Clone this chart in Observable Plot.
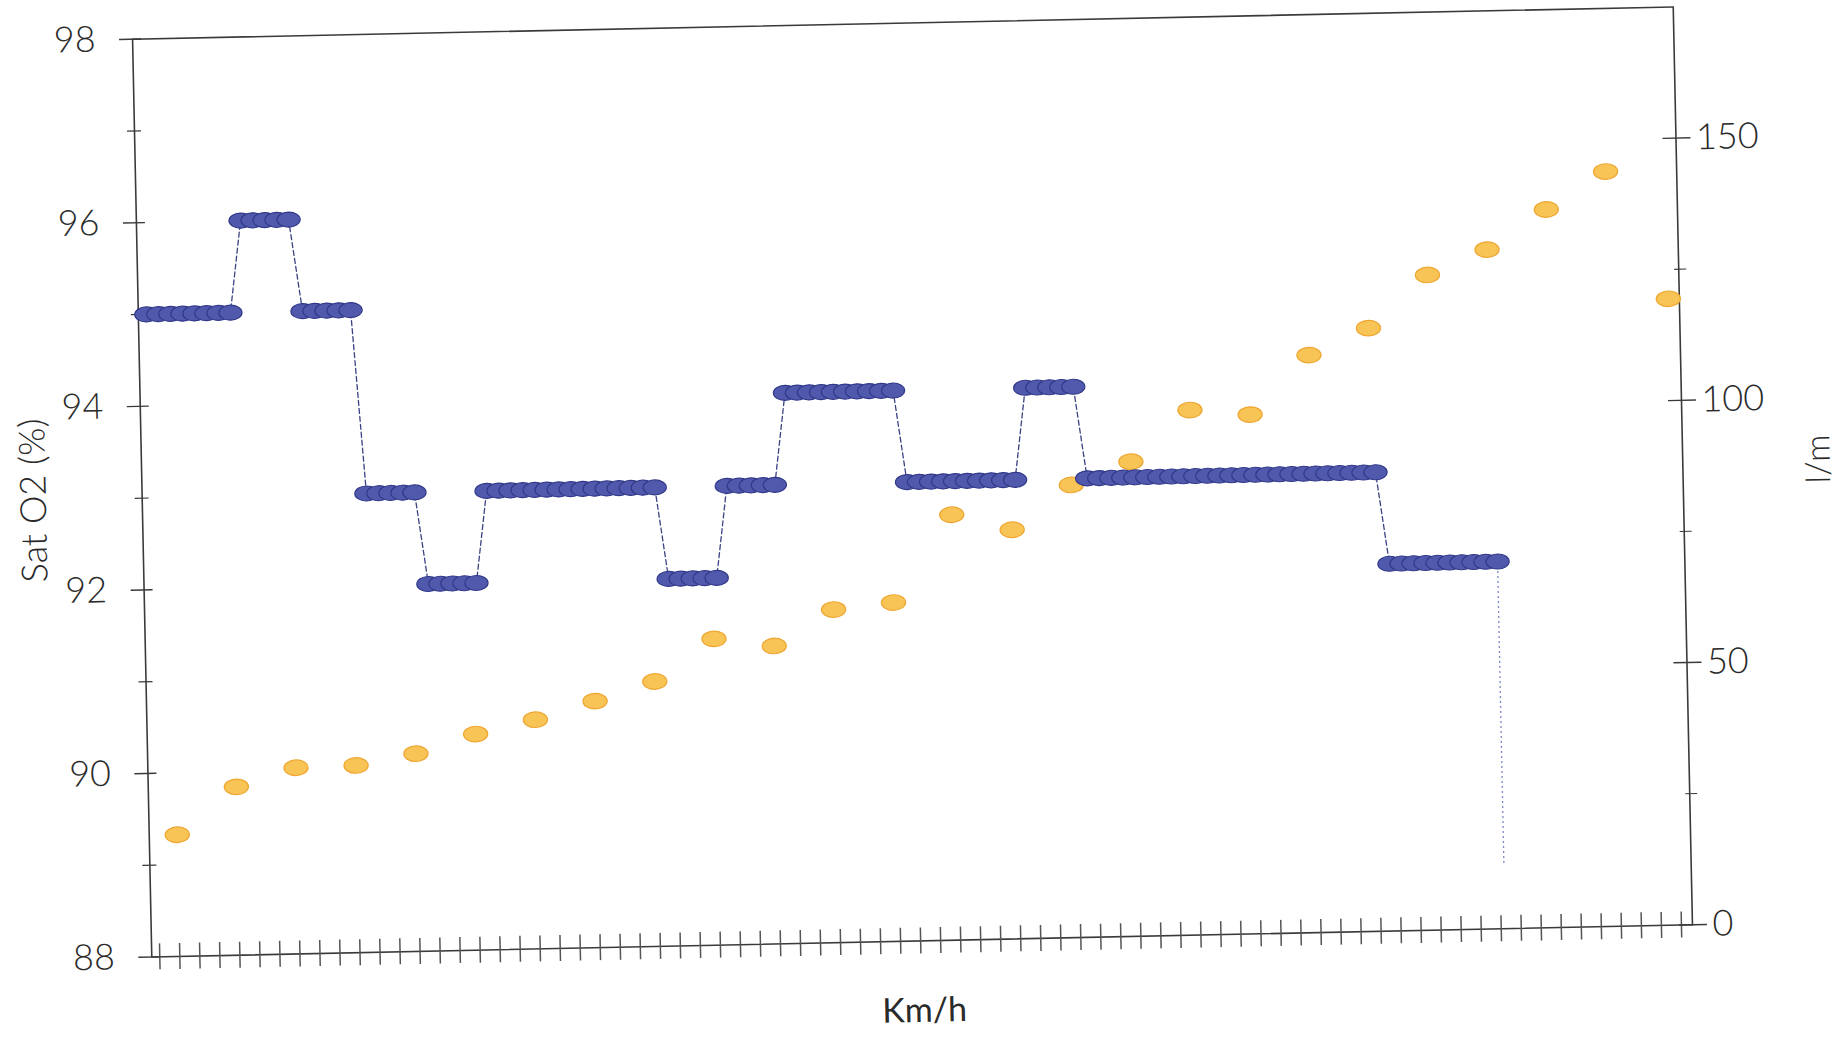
<!DOCTYPE html>
<html>
<head>
<meta charset="utf-8">
<script src="https://cdn.jsdelivr.net/npm/d3@7"></script>
<script src="https://cdn.jsdelivr.net/npm/@observablehq/plot@0.6"></script>
<style>
  html, body { margin: 0; padding: 0; background: #fff; overflow: hidden; }
  #chart svg { display: block; transform: rotate(-1.2deg); transform-origin: 912px 481.5px; }
</style>
</head>
<body>
<div id="chart"></div>
<script>
// ---- data ----
// SpO2 (%) sampled every 12 s
const SAMPLE_S = 12;
const satO2 = [
  95,95,95,95,95,95,95,95,
  96,96,96,96,96,
  95,95,95,95,95,
  93,93,93,93,93,
  92,92,92,92,92,
  93,93,93,93,93,93,93,93,93,93,93,93,93,93,93,
  92,92,92,92,92,
  93,93,93,93,93,
  94,94,94,94,94,94,94,94,94,94,
  93,93,93,93,93,93,93,93,93,93,
  94,94,94,94,94,
  93,93,93,93,93,93,93,93,93,93,93,93,93,93,93,93,93,93,93,93,93,93,93,93,93,
  92,92,92,92,92,92,92,92,92,92
];
const satDropEnd = 88.7;

// ventilation (l/m), one reading per minute
const veTime = [20,80,140,200,260,320,380,440,500,560,620,680,740,800,860,920,980,1040,1100,1160,1220,1280,1340,1400,1460,1520];
const ve = [23.2,32.1,35.5,35.7,37.7,41.2,43.7,47.0,50.5,58.4,56.8,63.5,64.6,81.1,78.0,86.3,90.5,100.1,99.0,110.1,115.0,124.9,129.5,136.9,143.9,119.4];

// axes
const satTicks = [88, 90, 92, 94, 96, 98];
const satMinorTicks = [89, 91, 93, 95, 97];
const veTicks = [0, 50, 100, 150];
const veMinorTicks = [25, 75, 125];
const timeTickStep = 20;
const timeTickMax = 1520;
const SAT_DOMAIN = [88, 98];
const VE_MAX = 175;
const TIME_DOMAIN = [-8, 1531];

// ---- derived ----
const veToSat = v => SAT_DOMAIN[0] + v * (SAT_DOMAIN[1] - SAT_DOMAIN[0]) / VE_MAX;
const satToVe = s => String(Math.round((s - SAT_DOMAIN[0]) * VE_MAX / (SAT_DOMAIN[1] - SAT_DOMAIN[0])));
const satData = satO2.map((v, i) => ({t: i * SAMPLE_S, v}));
const veData = ve.map((v, i) => ({t: veTime[i], v, y: veToSat(v)}));
const timeTicks = d3.range(0, timeTickMax + 1, timeTickStep);
const last = satData[satData.length - 1];

// ellipse symbol for the markers
const ellipse = {
  draw(ctx, size) {
    const r = Math.sqrt(size / Math.PI);
    const rx = r * 1.55, ry = r, k = 0.5523;
    ctx.moveTo(rx, 0);
    ctx.bezierCurveTo(rx, ry * k, rx * k, ry, 0, ry);
    ctx.bezierCurveTo(-rx * k, ry, -rx, ry * k, -rx, 0);
    ctx.bezierCurveTo(-rx, -ry * k, -rx * k, -ry, 0, -ry);
    ctx.bezierCurveTo(rx * k, -ry, rx, -ry * k, rx, 0);
    ctx.closePath();
  }
};

const FONT = "Lato, 'Open Sans', sans-serif";
const INK = "#3a3a3a";
const TXT = "#2a2a2a";

const chart = Plot.plot({
  width: 1846,
  height: 1047,
  marginLeft: 141.5,
  marginRight: 163.5,
  marginTop: 22.5,
  marginBottom: 106.5,
  style: {fontFamily: FONT, background: "#fff", color: INK},
  x: {domain: TIME_DOMAIN, axis: null},
  y: {domain: SAT_DOMAIN, axis: null},
  marks: [
    Plot.frame({stroke: INK, strokeWidth: 1.6}),
    // x axis ticks (crossing the axis line), no labels
    Plot.axisX(timeTicks, {anchor: "bottom", tickSize: 26, dy: -13, stroke: "#555", strokeWidth: 1.5, fill: "none", label: null}),
    // left axis
    Plot.axisY(satTicks, {anchor: "left", tickSize: 22, dx: 9, stroke: INK, strokeWidth: 1.4, fill: "none", label: null}),
    Plot.axisY(satMinorTicks, {anchor: "left", tickSize: 14, dx: 7, stroke: INK, strokeWidth: 1.2, fill: "none", label: null}),
    Plot.axisY(satTicks, {anchor: "left", tickSize: 0, tickPadding: 37, fontSize: 36, fontWeight: 300, fill: TXT, stroke: "none", tickFormat: d => String(d), label: null}),
    // right axis (l/m)
    Plot.axisY(veTicks.map(veToSat), {anchor: "right", tickSize: 28, dx: -14, stroke: INK, strokeWidth: 1.4, fill: "none", label: null}),
    Plot.axisY(veMinorTicks.map(veToSat), {anchor: "right", tickSize: 12, dx: -5, stroke: INK, strokeWidth: 1.2, fill: "none", label: null}),
    Plot.axisY(veTicks.map(veToSat), {anchor: "right", tickSize: 0, tickPadding: 20, fontSize: 36, fontWeight: 300, fill: TXT, stroke: "none", tickFormat: satToVe, label: null}),
    // axis titles
    Plot.text(["Sat O2 (%)"], {text: d => d, frameAnchor: "left", textAnchor: "middle", dx: -108, rotate: -90, fontSize: 36, fontWeight: 300, fill: TXT, letterSpacing: 2}),
    Plot.text(["l/m"], {text: d => d, frameAnchor: "right", textAnchor: "middle", dx: 136, dy: -4, rotate: -90, fontSize: 34, fontWeight: 300, fill: TXT}),
    Plot.text(["Km/h"], {text: d => d, frameAnchor: "bottom", textAnchor: "middle", dx: 1, dy: 81, fontSize: 34, fontWeight: 400, fill: TXT}),
    // SpO2 connecting dashed line and drop line
    Plot.line(satData, {x: "t", y: "v", stroke: "#3a4285", strokeWidth: 1.3, strokeDasharray: "5,3"}),
    Plot.ruleX([last], {x: "t", y1: "v", y2: () => satDropEnd, stroke: "#7d86c4", strokeWidth: 1.3, strokeDasharray: "2,3"}),
    // ventilation points
    Plot.dot(veData, {x: "t", y: "y", r: 7.8, symbol: ellipse, fill: "#f8c455", stroke: "#eea733", strokeWidth: 1.2}),
    // SpO2 points
    Plot.dot(satData, {x: "t", y: "v", r: 7.5, symbol: ellipse, fill: "#5159ad", stroke: "#303889", strokeWidth: 1.1})
  ]
});

document.getElementById("chart").appendChild(chart);
</script>
</body>
</html>
